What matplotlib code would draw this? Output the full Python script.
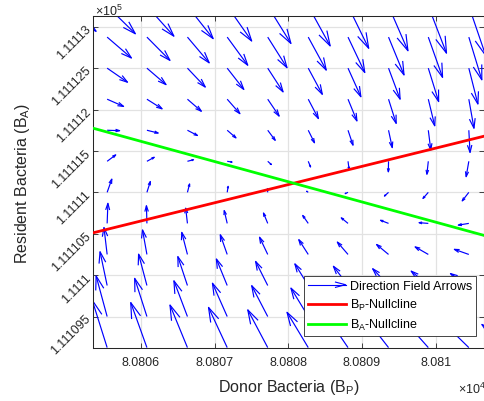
import numpy as np
import matplotlib
matplotlib.use('Agg')
import matplotlib.pyplot as plt
from matplotlib.collections import LineCollection
from matplotlib.legend_handler import HandlerBase
from matplotlib.lines import Line2D

plt.rcParams['font.family'] = ['Liberation Sans', 'DejaVu Sans']
plt.rcParams['mathtext.default'] = 'regular'

# arrow tail positions (donor B_P along x, resident B_A along y)
bp_grid = [80804.99, 80805.54, 80806.08, 80806.63, 80807.17, 80807.72,
           80808.27, 80808.81, 80809.36, 80809.90, 80810.45, 80811.00]
ba_grid = [111109.125, 111109.5, 111109.875, 111110.25, 111110.625, 111111.0,
           111111.375, 111111.75, 111112.125, 111112.5, 111112.875, 111113.25]

# nullcline end points
null_bp = [80805.348, 80810.656]
bp_nullcline = [111110.511, 111111.678]
ba_nullcline = [111111.775, 111110.480]

# strength of the field away from each nullcline (arrow units)
k_bp = 0.142
k_ba = 0.22

xticks = [80806, 80807, 80808, 80809, 80810]
xticklabels = ['8.0806', '8.0807', '8.0808', '8.0809', '8.081']
yticks = [111109.5, 111110, 111110.5, 111111, 111111.5, 111112, 111112.5, 111113]
yticklabels = ['1.111095', '1.1111', '1.111105', '1.11111', '1.111115',
               '1.11112', '1.111125', '1.11113']

xlim = (80805.348, 80810.656)
ylim = (111109.12, 111113.13)


def arrow_segments(BP, BA, U, V, sx, sy, alpha=0.33, beta=0.3):
    # shaft + open V head, head built in pixel space so it stays symmetric
    segs = []
    for x, y, u, v in zip(BP.ravel(), BA.ravel(), U.ravel(), V.ravel()):
        tip = (x + u, y + v)
        pu, pv = u * sx, v * sy
        h1 = (tip[0] - alpha * (pu + beta * pv) / sx, tip[1] - alpha * (pv - beta * pu) / sy)
        h2 = (tip[0] - alpha * (pu - beta * pv) / sx, tip[1] - alpha * (pv + beta * pu) / sy)
        segs.append([(x, y), tip])
        segs.append([h1, tip, h2])
    return segs


class ArrowHandler(HandlerBase):
    def create_artists(self, legend, orig_handle, xdescent, ydescent,
                       width, height, fontsize, trans):
        y = height / 2 - ydescent
        x0 = -xdescent
        x1 = x0 + width
        shaft = Line2D([x0, x1], [y, y], color='blue', lw=0.8, transform=trans)
        head = Line2D([x1 - 0.27 * width, x1, x1 - 0.27 * width],
                      [y + 0.07 * width, y, y - 0.07 * width],
                      color='blue', lw=0.8, transform=trans)
        return [shaft, head]


def main():
    fig = plt.figure(figsize=(4.85, 4.02), dpi=100)
    ax = fig.add_axes([93 / 485, 1 - 349 / 402, (484 - 93) / 485, (349 - 17) / 402])

    BP, BA = np.meshgrid(bp_grid, ba_grid)
    red = np.polyval(np.polyfit(null_bp, bp_nullcline, 1), BP)
    green = np.polyval(np.polyfit(null_bp, ba_nullcline, 1), BP)
    U = k_bp * (BA - red)
    V = -k_ba * (BA - green)

    sx = (484 - 93) / (xlim[1] - xlim[0])
    sy = (349 - 17) / (ylim[1] - ylim[0])
    lc = LineCollection(arrow_segments(BP, BA, U, V, sx, sy),
                        colors='blue', linewidths=0.85, zorder=2)
    ax.add_collection(lc)

    ax.plot(null_bp, bp_nullcline, color='red', lw=2, zorder=3)
    ax.plot(null_bp, ba_nullcline, color=(0, 1, 0), lw=2, zorder=3)

    ax.set_xlim(*xlim)
    ax.set_ylim(*ylim)
    ax.set_xticks(xticks)
    ax.set_xticklabels(xticklabels)
    ax.set_yticks(yticks)
    ax.set_yticklabels(yticklabels)
    for lab in ax.get_yticklabels():
        lab.set_rotation(45)
        lab.set_ha('right')
        lab.set_va('center')
        lab.set_rotation_mode('anchor')

    ax.tick_params(direction='in', length=3.5, width=0.6, top=True, right=True,
                   colors='0.15', labelsize=9)
    ax.tick_params(axis='x', pad=6)
    ax.tick_params(axis='y', pad=3)
    for s in ax.spines.values():
        s.set_color('0.15')
        s.set_linewidth(0.75)
    ax.grid(True, color='#e2e2e2', lw=0.9)
    ax.set_axisbelow(True)

    ax.set_xlabel('Donor Bacteria (B$_P$)', fontsize=11.5, color='0.15', labelpad=6)
    ax.set_ylabel('Resident Bacteria (B$_A$)', fontsize=11.5, color='0.15', labelpad=12)

    fig.text(95 / 485, 1 - 16 / 402, r'$\times10^{5}$', fontsize=9, color='0.15',
             ha='left', va='baseline')
    fig.text(458 / 485, 1 - 394 / 402, r'$\times10^{4}$', fontsize=9, color='0.15',
             ha='left', va='baseline')

    arrow_proxy = Line2D([], [], color='blue', lw=0.8)
    red_proxy = Line2D([], [], color='red', lw=2)
    green_proxy = Line2D([], [], color=(0, 1, 0), lw=2)
    leg = ax.legend([arrow_proxy, red_proxy, green_proxy],
                    ['Direction Field Arrows', 'B$_P$-Nullcline', 'B$_A$-Nullcline'],
                    handler_map={arrow_proxy: ArrowHandler()},
                    loc='lower right', bbox_to_anchor=(0.9795, 0.036), borderaxespad=0,
                    fontsize=9, fancybox=False, edgecolor='0.15', framealpha=1,
                    handlelength=3.0, handletextpad=0.35, borderpad=0.3,
                    labelspacing=0.4)
    leg.get_frame().set_linewidth(0.6)

    fig.savefig('out.png', dpi=100)


if __name__ == "__main__":
    main()
